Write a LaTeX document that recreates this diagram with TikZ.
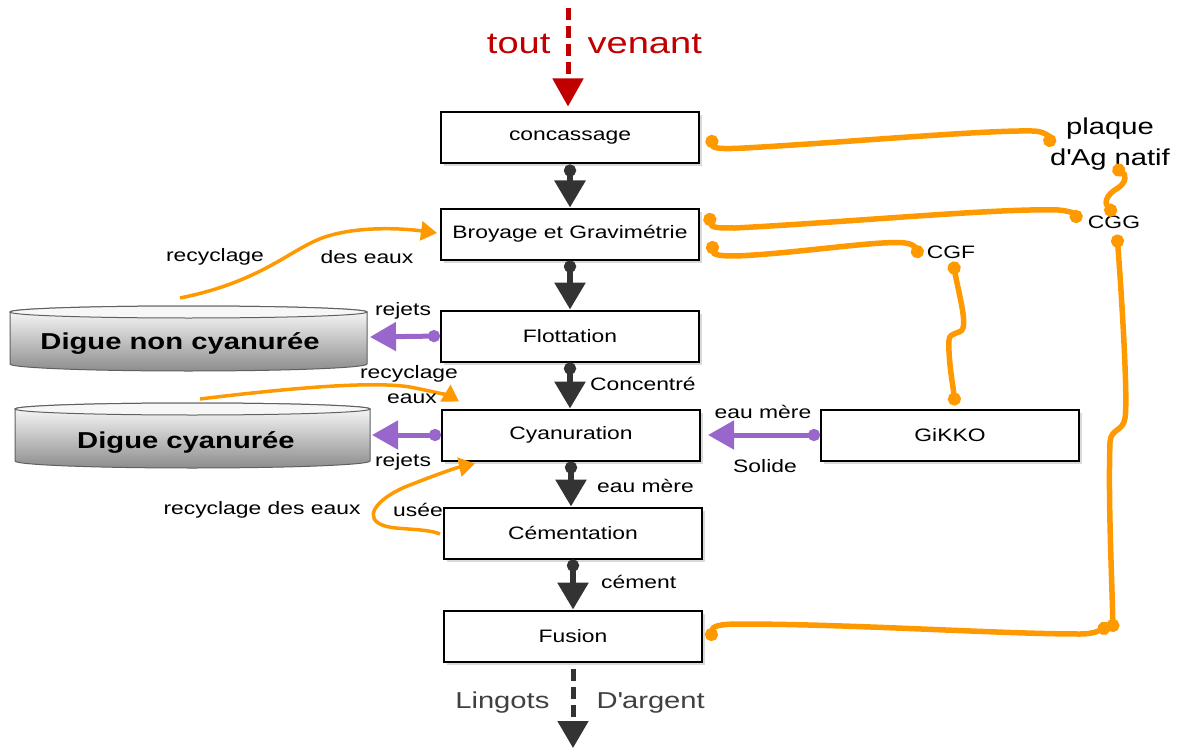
\documentclass[tikz,border=0pt]{standalone}
\usepackage{fontspec}
\setmainfont{Liberation Sans}[FakeStretch=1.27]
\usetikzlibrary{arrows.meta,shadows,calc}

\definecolor{orangeor}{RGB}{255,153,0}
\definecolor{mauve}{RGB}{153,102,204}
\definecolor{rouge}{RGB}{192,0,0}
\definecolor{gris}{RGB}{51,51,51}
\definecolor{grisclair}{RGB}{64,64,64}

\tikzset{
  etape/.style={draw,line width=2pt,fill=white,minimum width=258pt,minimum height=51pt,
    inner sep=0pt,font=\fontsize{18}{20}\selectfont,
    drop shadow={shadow xshift=3pt,shadow yshift=-3pt,opacity=.3}},
  lbl/.style={font=\fontsize{18}{20}\selectfont,inner sep=3pt},
  flux/.style={gris,line width=6pt,{Circle[length=12pt]}-{Triangle[width=30pt,length=27pt]}},
  rejet/.style={mauve,line width=5pt,{Circle[length=12pt]}-{Triangle[width=28pt,length=26pt]}},
  fil/.style={orangeor,line width=5.5pt,{Circle[length=13pt]}-{Circle[length=13pt]}},
  recyc/.style={orangeor,line width=3.5pt,-{Triangle[width=19pt,length=16pt]}},
  digue/.style={draw=gray!75!black,line width=1pt}
}

\begin{document}
\begin{tikzpicture}[x=1pt,y=-1pt]
\useasboundingbox (0,0) rectangle (1181,749);

% digues
\draw[digue,top color=white,bottom color=black!45] (10,312) -- (10,364)
  arc[start angle=180,end angle=0,x radius=178.5,y radius=7] -- (367,312)
  arc[start angle=0,end angle=-180,x radius=178.5,y radius=6] -- cycle;
\draw[digue,fill=gray!6] (188.5,312) ellipse[x radius=178.5,y radius=6];
\draw[digue,top color=white,bottom color=black!45] (15,409) -- (15,461)
  arc[start angle=180,end angle=0,x radius=177.5,y radius=7] -- (370,409)
  arc[start angle=0,end angle=-180,x radius=177.5,y radius=6] -- cycle;
\draw[digue,fill=gray!6] (192.5,409) ellipse[x radius=177.5,y radius=6];
\node[font=\bfseries\fontsize{23}{25}\selectfont] (digueN) at (180,344) {Digue non cyanurée};
\node[font=\bfseries\fontsize{23}{25}\selectfont] (digueC) at (186,443) {Digue cyanurée};
\coordinate (dnc) at (370,337);
\coordinate (dc) at (372,435);
\coordinate (dncH) at (180,298);
\coordinate (dcH) at (200,399);

% etapes
\node[etape] (conc) at (570,138) {concassage};
\node[etape] (broy) at (570,234) {Broyage et Gravimétrie};
\node[etape] (flot) at (570,336) {Flottation};
\node[etape] (cyan) at (571,435) {Cyanuration};
\node[etape] (cem) at (573,533) {Cémentation};
\node[etape] (fus) at (573,636) {Fusion};
\node[etape] (gikko) at (950,435) {GiKKO};

% entree et sortie
\coordinate (entree) at (568,8);
\coordinate (sortie) at (573,748);
\draw[rouge,line width=5pt,dash pattern=on 12pt off 6pt,-{Triangle[width=30pt,length=28pt]}]
  (entree) -- ($(conc.north)+(-2,-5)$);
\node[rouge,anchor=east,font=\fontsize{30}{32}\selectfont] (tout) at (554,44) {tout};
\node[rouge,anchor=west,font=\fontsize{30}{32}\selectfont] (venant) at (584,44) {venant};
\draw[gris,line width=5pt,dash pattern=on 12pt off 6pt,-{Triangle[width=30pt,length=27pt]}]
  ($(fus.south)+(0,6)$) -- (sortie);
\node[grisclair,anchor=east,font=\fontsize{23}{25}\selectfont] (lingots) at (553,703) {Lingots};
\node[grisclair,anchor=west,font=\fontsize{23}{25}\selectfont] (argent) at (593,703) {D\textquotesingle argent};

% flux principal
\draw[flux] (conc.south) -- (broy.north);
\draw[flux] (broy.south) -- (flot.north);
\draw[flux] (flot.south) -- (flot.south |- cyan.north);
\draw[flux] (cyan.south) -- (cyan.south |- cem.north);
\draw[flux] (cem.south) -- (fus.north);
\node[lbl,anchor=west] (concentre) at (587,384) {Concentré};
\node[lbl,anchor=west] (eaum1) at (594,486) {eau mère};
\node[lbl,anchor=west] (cement) at (598,582) {cément};

% rejets
\draw[rejet] (flot.west) -- (dnc);
\draw[rejet] (cyan.west) -- (dc);
\draw[rejet] (gikko.west) -- ($(cyan.east)+(7,0)$);
\node[lbl] (rej1) at (403,311) {rejets};
\node[lbl] (rej2) at (403,462) {rejets};
\node[lbl] (eaum2) at (763,412) {eau mère};
\node[lbl] (solide) at (765,466) {Solide};

% recyclage des eaux
\draw[recyc] (dncH) .. controls (260,282) and (290,250) .. (322,238)
  .. controls (355,226) and (400,228) .. ($(broy.west)+(-3,-1)$);
\draw[recyc] (dcH) .. controls (290,388) and (380,380) .. (415,388)
  .. controls (435,392) and (450,396) .. ($(cyan.north west)+(18,-7)$);
\draw[recyc] ($(cem.west)+(-3,1)$) .. controls (425,528) and (398,530) .. (385,526)
  .. controls (362,519) and (375,500) .. (405,487)
  .. controls (430,477) and (455,468) .. ($(cyan.south west)+(34,2)$);
\node[lbl] (rec1) at (215,257) {recyclage};
\node[lbl] (rec1b) at (367,257) {des eaux};
\node[lbl] (rec2) at (409,374) {recyclage};
\node[lbl] (rec2b) at (412,399) {eaux};
\node[lbl] (rec3) at (262,510) {recyclage des eaux};
\node[lbl] (rec3b) at (418,510) {usée};

% or : plaque, CGG, CGF
\node[lbl,align=center,font=\fontsize{23}{31}\selectfont] (plaque) at (1110,144) {plaque\\d\textquotesingle Ag natif};
\node[lbl] (cgg) at (1114,222) {CGG};
\node[lbl] (cgf) at (951,252) {CGF};
\coordinate (jonction) at (1113,632);

\draw[fil] ($(conc.east)+(11,-3)$) .. controls (713,149) and (724,149) .. (745,148)
  .. controls (850,142) and (985,130) .. (1032,131)
  .. controls (1046,131) and (1050,138) .. (1049,147);
\draw[fil] (1113,167) .. controls (1126,174) and (1127,182) .. (1118,188)
  .. controls (1104,196) and (1105,204) .. (1115,215);
\draw[fil] ($(broy.east)+(9,-21)$) .. controls (711,228) and (718,228) .. (735,228)
  .. controls (850,222) and (1000,208) .. (1058,210)
  .. controls (1072,211) and (1076,215) .. ($(cgg.west)+(-8,1)$);
\draw[fil] ($(broy.east)+(12,7)$) .. controls (713,255) and (720,256) .. (737,256)
  .. controls (800,253) and (880,240) .. (905,243)
  .. controls (915,244) and (917,250) .. ($(cgf.west)+(-5,6)$);
\draw[fil] ($(cgf.south)+(2,0)$) .. controls (958,290) and (966,318) .. (963,328)
  .. controls (961,335) and (950,331) .. (949,340)
  .. controls (948,360) and (953,385) .. ($(gikko.north)+(5,-3)$);
\draw[fil] ($(cgg.south)+(3,3)$) .. controls (1122,300) and (1128,400) .. (1125,418)
  .. controls (1123,432) and (1111,428) .. (1110,442)
  .. controls (1108,500) and (1112,580) .. (jonction);
\draw[fil] ($(fus.east)+(8,5)$) .. controls (712,626) and (720,624) .. (740,624)
  .. controls (850,624) and (1000,634) .. (1080,634)
  .. controls (1095,634) and (1100,630) .. ($(jonction)+(-3,-6)$);
\end{tikzpicture}
\end{document}
